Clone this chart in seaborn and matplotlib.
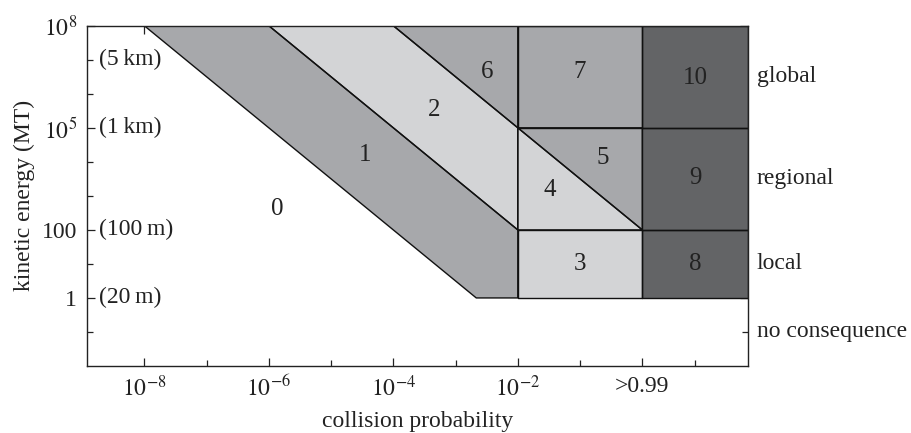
import matplotlib
matplotlib.use("Agg")
import matplotlib.pyplot as plt
import seaborn as sns
import pandas as pd

# ---- data (log10 coordinates) ----
X_MIN, X_MAX = -8.92, 1.69
Y_MIN, Y_MAX = -2.0, 8.0

region_names = ["1", "2", "3", "4", "5", "6", "7", "8", "9", "10"]
region_xs = [
    [-8, -6, -2, -2, -2.667],
    [-6, -4, -2, -2],
    [-2, 0, 0, -2],
    [-2, 0, -2],
    [-2, 0, 0],
    [-4, -2, -2],
    [-2, 0, 0, -2],
    [0, X_MAX, X_MAX, 0],
    [0, X_MAX, X_MAX, 0],
    [0, X_MAX, X_MAX, 0],
]
region_ys = [
    [8, 8, 2, 0, 0],
    [8, 8, 5, 2],
    [2, 2, 0, 0],
    [5, 2, 2],
    [5, 5, 2],
    [8, 8, 5],
    [8, 8, 5, 5],
    [2, 2, 0, 0],
    [5, 5, 2, 2],
    [8, 8, 5, 5],
]
region_shade = ["mid", "light", "light", "light", "mid", "mid", "mid", "dark", "dark", "dark"]

label_names = ["0", "1", "2", "3", "4", "5", "6", "7", "8", "9", "10"]
label_x = [-5.86, -4.45, -3.34, -1.0, -1.49, -0.63, -2.5, -1.0, 0.85, 0.85, 0.85]
label_y = [2.6, 4.2, 5.52, 1.0, 3.17, 4.1, 6.64, 6.64, 1.0, 3.52, 6.46]

prob_ticks = [-8, -6, -4, -2, 0]
prob_labels = [r"$10^{-8}$", r"$10^{-6}$", r"$10^{-4}$", r"$10^{-2}$", ">0.99"]
prob_minor = [-7, -5, -3, -1, 0.845]

energy_ticks = [0, 2, 5, 8]
energy_labels = ["1", "100", r"$10^5$", r"$10^8$"]
energy_minor = [-1, 1, 3, 4, 6, 7]

size_pos = [0, 2, 5, 7]
size_labels = ["(20\u2009m)", "(100\u2009m)", "(1\u2009km)", "(5\u2009km)"]

conseq_pos = [6.5, 3.5, 1.0, -1.0]
conseq_labels = ["global", "regional", "local", "no consequence"]

shade_colors = {"light": "#d3d4d6", "mid": "#a7a8ab", "dark": "#636466"}

# ---- style ----
sns.set_theme(style="ticks")
plt.rcParams["font.family"] = ["Liberation Serif", "DejaVu Serif"]
plt.rcParams["mathtext.fontset"] = "stix"

FS = 17
TXT = "#222222"

fig = plt.figure(figsize=(9.11, 4.33), dpi=100)
ax = fig.add_axes([87 / 911, 1 - 366 / 433, (747.5 - 87) / 911, (366 - 25.7) / 433])

# fills
for xs, ys, sh in zip(region_xs, region_ys, region_shade):
    ax.fill(xs, ys, color=shade_colors[sh], lw=0, zorder=1)

# outlines via seaborn
rows = []
for name, xs, ys in zip(region_names, region_xs, region_ys):
    pts = list(zip(xs, ys)) + [(xs[0], ys[0])]
    for i, (px, py) in enumerate(pts):
        rows.append({"region": name, "order": i, "x": px, "y": py})
outline = pd.DataFrame(rows)
sns.lineplot(data=outline, x="x", y="y", units="region", estimator=None, sort=False,
             color="#111111", lw=1.0, ax=ax, legend=False, zorder=2)

for t, x, y in zip(label_names, label_x, label_y):
    ax.text(x, y, t, fontsize=18, ha="center", va="center", color=TXT, zorder=3)

for t, y in zip(size_labels, size_pos):
    ax.text(-8.72, y, t, fontsize=FS, ha="left", va="center", color=TXT)

for t, y in zip(conseq_labels, conseq_pos):
    ax.text(1.014, y, t, transform=ax.get_yaxis_transform(), fontsize=FS,
            ha="left", va="center", color=TXT)

ax.set_xlim(X_MIN, X_MAX)
ax.set_ylim(Y_MIN, Y_MAX)
ax.set_xticks(prob_ticks)
ax.set_xticklabels(prob_labels)
ax.set_xticks(prob_minor, minor=True)
ax.set_yticks(energy_ticks)
ax.set_yticklabels(energy_labels)
ax.set_yticks(energy_minor, minor=True)
ax.tick_params(which="both", direction="in", top=True, right=True,
               labelsize=FS, colors=TXT, width=0.9)
ax.tick_params(which="major", length=6, pad=7)
ax.tick_params(which="minor", length=4)
for s in ax.spines.values():
    s.set_linewidth(1.0)
    s.set_color(TXT)
    s.set_zorder(4)

ax.set_xlabel("collision probability", fontsize=FS, color=TXT, labelpad=7)
ax.set_ylabel("kinetic energy (MT)", fontsize=FS, color=TXT, labelpad=5)

fig.savefig("out.png", dpi=100)
